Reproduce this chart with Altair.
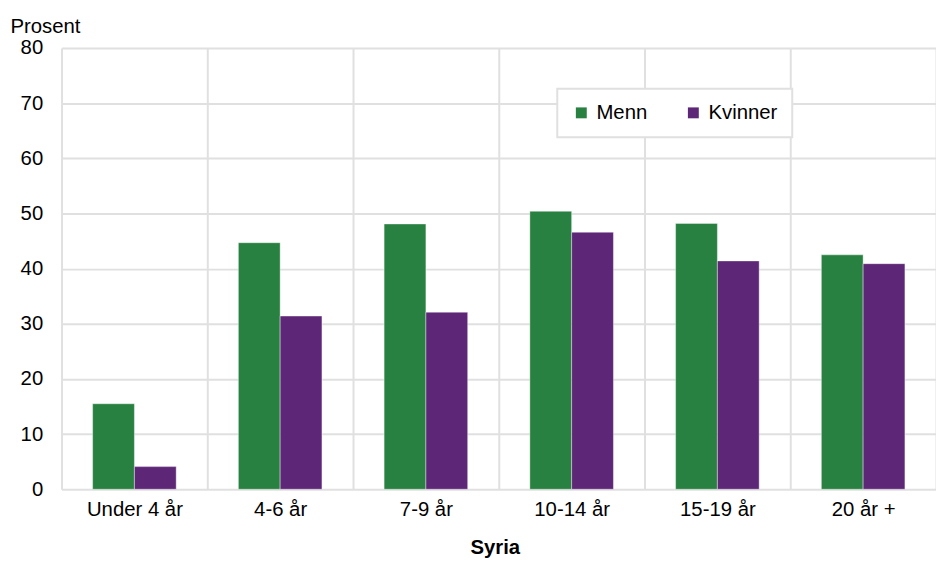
import altair as alt
import pandas as pd

categories = ["Under 4 år", "4-6 år", "7-9 år", "10-14 år", "15-19 år", "20 år +"]
menn = [15.5, 44.7, 48.1, 50.4, 48.2, 42.5]
kvinner = [4.1, 31.4, 32.1, 46.6, 41.4, 40.9]
series = ["Menn", "Kvinner"]
colors = ["#288140", "#5e2677"]
y_ticks = [0, 10, 20, 30, 40, 50, 60, 70, 80]

rows = []
for c, m, k in zip(categories, menn, kvinner):
    rows.append({"Botid": c, "Kjønn": "Menn", "Prosent": m})
    rows.append({"Botid": c, "Kjønn": "Kvinner", "Prosent": k})
df = pd.DataFrame(rows)

font = "Liberation Sans"
fs = 20.5
grid_col = "#e0e0e0"

chart = alt.Chart(df).mark_bar(stroke="white", strokeWidth=1, strokeOpacity=0.4).encode(
    x=alt.X(
        "Botid:N",
        sort=categories,
        scale=alt.Scale(paddingInner=0, paddingOuter=0),
        axis=alt.Axis(
            title="Syria", labelAngle=0, tickBand="extent", grid=True, ticks=False,
            domain=False, labelFont=font, labelFontSize=fs, labelColor="black",
            labelPadding=10, titleFont=font, titleFontSize=fs, titleFontWeight="bold",
            titleColor="black", titleX=437, titleY=65, titleAlign="center",
            titleBaseline="alphabetic", gridColor=grid_col, gridWidth=2,
        ),
    ),
    xOffset=alt.XOffset("Kjønn:N", sort=series, scale=alt.Scale(paddingInner=0, paddingOuter=0.744)),
    y=alt.Y(
        "Prosent:Q",
        scale=alt.Scale(domain=[0, 80], nice=False),
        axis=alt.Axis(
            values=y_ticks, title="Prosent", titleAngle=0, titleAlign="left",
            titleX=-52, titleY=-16, titleBaseline="alphabetic", titleFont=font,
            titleFontSize=fs, titleFontWeight="normal", titleColor="black",
            labelFont=font, labelFontSize=fs, labelColor="black", labelPadding=19,
            ticks=False, domain=False, gridColor=grid_col, gridWidth=2,
        ),
    ),
    color=alt.Color(
        "Kjønn:N",
        sort=series,
        scale=alt.Scale(domain=series, range=colors),
        legend=alt.Legend(
            title=None, orient="none", legendX=500, legendY=41, direction="horizontal",
            symbolType="square", symbolSize=121, symbolStrokeWidth=0,
            labelFont=font, labelFontSize=fs, labelColor="black", labelOffset=5,
            columnPadding=36, padding=14, fillColor="white", strokeColor=grid_col,
        ),
    ),
).properties(
    width=882,
    height=445,
    autosize=alt.AutoSizeParams(type="none"),
    padding={"left": 54, "right": 0, "top": 38, "bottom": 70},
).configure_view(stroke=None).configure_legend(strokeWidth=2)

chart.save("out.html", embed_options={"renderer": "svg", "actions": False})
